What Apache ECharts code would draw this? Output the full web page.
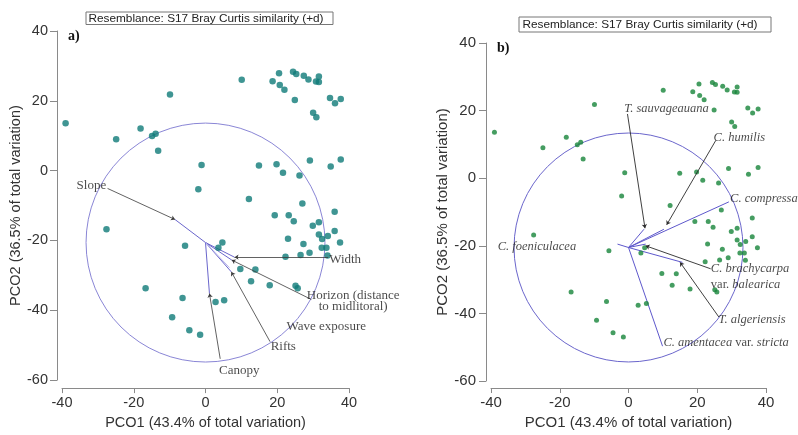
<!DOCTYPE html>
<html>
<head>
<meta charset="utf-8">
<script src="https://cdn.jsdelivr.net/npm/echarts@6/dist/echarts.min.js"></script>
<style>html,body{margin:0;padding:0;background:#fff}#c{width:798px;height:435px}</style>
</head>
<body>
<div id="c"></div>
<script>
// PCO scores (PCO1, PCO2) – same samples in both panels
const pcoScores = [
[-39.0,13.6],[-9.9,21.8],[-24.9,9.0],[-18.1,12.1],[-14.9,9.9],[-13.9,10.6],[-13.2,5.7],[-1.1,1.6],
[10.1,26.0],[20.5,27.9],[18.7,25.6],[20.7,24.5],[22.0,23.2],[24.4,28.3],[25.3,27.7],[27.4,27.2],
[28.7,26.1],[31.6,27.0],[30.8,25.5],[31.6,25.4],[24.9,20.2],[34.7,20.8],[36.1,19.3],[37.7,20.5],
[30.0,16.6],[30.9,15.3],[14.9,1.5],[19.8,1.8],[21.6,-0.6],[26.2,-1.4],[29.1,2.9],[34.9,1.2],
[37.7,3.2],[-2.0,-5.3],[-27.6,-16.8],[-5.7,-21.5],[-16.7,-33.7],[-6.4,-36.5],[-9.3,-42.0],[-4.5,-45.7],
[-1.5,-47.0],[12.1,-8.1],[27.0,-9.4],[36.0,-11.8],[19.3,-12.8],[23.2,-12.8],[24.6,-14.5],[29.9,-15.8],
[31.6,-14.8],[36.0,-17.3],[31.6,-18.3],[32.5,-19.6],[34.1,-18.7],[37.5,-20.6],[23.0,-19.5],[27.3,-21.0],
[32.4,-22.1],[33.7,-22.1],[29.0,-23.5],[26.5,-24.2],[22.3,-24.7],[34.0,-24.3],[4.7,-20.6],[3.6,-22.1],
[9.7,-28.2],[13.9,-28.3],[12.7,-31.7],[17.9,-32.8],[25.1,-33.0],[25.7,-33.7],[2.8,-37.6],[5.2,-37.1]
];

// correlation circle
const circleA = [0, -20.6, 33.3];
const circleB = [0, -20.5, 33.3];

// panel a) environmental vectors
const envOrigin = [0, -20.6];
const envEnds = [[-8.5,-14.0],[8.1,-24.8],[7.3,-25.6],[7.2,-29.0],[1.1,-35.2]];
const envFaintEnds = [[6.7,-27.8]];
const envLeaderFrom = [[-27.3,-5.1],[34.2,-24.7],[29.5,-36.9],[18.0,-49.0],[4.1,-53.9]];
const envLeaderTo = [[-8.5,-14.0],[8.1,-24.8],[7.3,-25.6],[7.2,-29.0],[1.1,-35.2]];
const envLabels = ['Slope','Width','Horizon (distance\nto midlitoral)','Wave exposure','Rifts','Canopy'];
const envLabelAt = [[-35.8,-4.5],[34.6,-25.6],[41.3,-37.4],[33.8,-44.8],[18.3,-50.4],[3.9,-57.3]];
const envLabelAlign = ['left','left','center','center','left','left'];

// panel b) species vectors
const spOrigin = [0, -20.5];
const spEnds = [[4.5,-15.1],[10.3,-15.1],[29.2,-7.0],[-3.2,-19.5],[5.0,-19.5],[15.7,-24.9],[9.9,-49.7]];
const spLeaderFrom = [[-0.3,19.0],[25.4,11.2],[23.9,-26.8],[26.3,-41.1]];
const spLeaderTo = [[4.8,-14.8],[11.1,-13.8],[5.0,-20.0],[15.0,-24.9]];
const spLabels = [
  '{i|T. sauvageauana}',
  '{i|C. humilis}',
  '{i|C. compressa}',
  '{i|C. foeniculacea}',
  '{i|C. brachycarpa}\n{r|var. }{i|balearica}',
  '{i|T. algeriensis}',
  '{i|C. amentacea }{r|var. }{i|stricta}'
];
const spLabelAt = [[-1.1,20.5],[24.9,11.7],[29.7,-6.1],[-37.9,-20.5],[24.1,-29.2],[26.3,-41.9],[10.3,-48.9]];

const axisTitleX = 'PCO1 (43.4% of total variation)';
const axisTitleY = 'PCO2 (36.5% of total variation)';
const resemblance = 'Resemblance: S17 Bray Curtis similarity (+d)';

const SANS = 'Liberation Sans, Arial, sans-serif';
const SERIF = 'Liberation Serif, Times New Roman, serif';

function xAx(g, off, margin, gap, fs) {
  return {
    gridIndex: g, type: 'value', min: -40, max: 40, interval: 20, offset: off,
    name: axisTitleX, nameLocation: 'middle', nameGap: gap,
    nameTextStyle: {fontFamily: SANS, fontSize: fs, color: '#333'},
    axisLine: {show: true, onZero: false, lineStyle: {color: '#8a8a8a', width: 1}},
    axisTick: {show: true, inside: false, length: 5, lineStyle: {color: '#8a8a8a'}},
    axisLabel: {fontFamily: SANS, fontSize: fs, color: '#333', margin: margin},
    splitLine: {show: false}
  };
}
function yAx(g, off, margin, gap, fs) {
  return {
    gridIndex: g, type: 'value', min: -60, max: 40, interval: 20, offset: off,
    name: axisTitleY, nameLocation: 'middle', nameGap: gap, nameRotate: 90,
    nameTextStyle: {fontFamily: SANS, fontSize: fs, color: '#333'},
    axisLine: {show: true, onZero: false, lineStyle: {color: '#8a8a8a', width: 1}},
    axisTick: {show: true, inside: false, length: 7, lineStyle: {color: '#8a8a8a'}},
    axisLabel: {fontFamily: SANS, fontSize: fs, color: '#333', margin: margin},
    splitLine: {show: false}
  };
}

function circleSeries(idx, c, color) {
  return {
    type: 'custom', xAxisIndex: idx, yAxisIndex: idx, clip: false, silent: true, z: 1,
    data: [c],
    renderItem: function (params, api) {
      const p = api.coord([api.value(0), api.value(1)]);
      const q = api.coord([api.value(0) + api.value(2), api.value(1)]);
      return {type: 'circle', shape: {cx: p[0], cy: p[1], r: q[0] - p[0]},
        style: {fill: 'none', stroke: color, lineWidth: 1}};
    }
  };
}
function segs(origin, ends) { return ends.map(e => ({coords: [origin, e]})); }
function pairs(a, b) { return a.map((s, i) => ({coords: [s, b[i]]})); }

const chart = echarts.init(document.getElementById('c'), null, {renderer: 'canvas'});
const option = {
  animation: false,
  backgroundColor: '#fff',
  grid: [
    {left: 62, top: 31, width: 287, height: 358},
    {left: 491, top: 43, width: 275, height: 343}
  ],
  xAxis: [xAx(0, 8, 7, 24, 14.5), xAx(1, 7, 7, 27, 15)],
  yAxis: [yAx(0, 5, 9, 34, 14.5), yAx(1, 5, 10, 35, 15)],
  graphic: [
    {type: 'rect', shape: {x: 86, y: 12, width: 247, height: 12.5}, style: {fill: '#fff', stroke: '#777', lineWidth: 1}},
    {type: 'text', x: 206, y: 18.5, style: {text: resemblance, font: '11.8px ' + SANS, fill: '#222', textAlign: 'center', textVerticalAlign: 'middle'}},
    {type: 'rect', shape: {x: 519, y: 17, width: 252, height: 15}, style: {fill: '#fff', stroke: '#777', lineWidth: 1}},
    {type: 'text', x: 640, y: 24.5, style: {text: resemblance, font: '11.8px ' + SANS, fill: '#222', textAlign: 'center', textVerticalAlign: 'middle'}},
    {type: 'text', x: 68, y: 29, style: {text: 'a)', font: 'bold 14px ' + SERIF, fill: '#111'}},
    {type: 'text', x: 497, y: 41, style: {text: 'b)', font: 'bold 14px ' + SERIF, fill: '#111'}}
  ],
  series: [
    circleSeries(0, circleA, '#8a86d6'),
    circleSeries(1, circleB, '#6b66cc'),
    // panel a vectors
    {type: 'lines', coordinateSystem: 'cartesian2d', xAxisIndex: 0, yAxisIndex: 0, z: 2, silent: true,
      lineStyle: {color: '#6a66cc', width: 1, opacity: 1}, symbol: 'none', data: segs(envOrigin, envEnds)},
    {type: 'lines', coordinateSystem: 'cartesian2d', xAxisIndex: 0, yAxisIndex: 0, z: 2, silent: true,
      lineStyle: {color: '#b9b6ec', width: 1, opacity: 1}, symbol: 'none', data: segs(envOrigin, envFaintEnds)},
    {type: 'scatter', xAxisIndex: 0, yAxisIndex: 0, z: 3, symbolSize: 6.5, silent: true,
      itemStyle: {color: '#0f7b78'}, data: pcoScores},
    {type: 'lines', coordinateSystem: 'cartesian2d', xAxisIndex: 0, yAxisIndex: 0, z: 4, silent: true,
      lineStyle: {color: '#3a3a3a', width: 0.8, opacity: 1}, symbol: ['none', 'arrow'], symbolSize: 4,
      data: pairs(envLeaderFrom, envLeaderTo)},
    {type: 'scatter', xAxisIndex: 0, yAxisIndex: 0, z: 5, symbolSize: 1, silent: true, clip: false,
      itemStyle: {color: 'rgba(0,0,0,0)'},
      data: envLabelAt.map((p, i) => ({value: p, name: envLabels[i],
        label: {show: true, position: [0, 0], align: envLabelAlign[i], verticalAlign: 'middle',
          formatter: envLabels[i], fontFamily: SERIF, fontSize: 13, color: '#1a1a1a', lineHeight: 11}}))},
    // panel b vectors
    {type: 'lines', coordinateSystem: 'cartesian2d', xAxisIndex: 1, yAxisIndex: 1, z: 2, silent: true,
      lineStyle: {color: '#5e58cc', width: 1, opacity: 1}, symbol: 'none', data: segs(spOrigin, spEnds)},
    {type: 'scatter', xAxisIndex: 1, yAxisIndex: 1, z: 3, symbolSize: 5, silent: true,
      itemStyle: {color: '#16853a'}, data: pcoScores},
    {type: 'lines', coordinateSystem: 'cartesian2d', xAxisIndex: 1, yAxisIndex: 1, z: 4, silent: true,
      lineStyle: {color: '#2a2a2a', width: 0.9, opacity: 1}, symbol: ['none', 'arrow'], symbolSize: 4,
      data: pairs(spLeaderFrom, spLeaderTo)},
    {type: 'scatter', xAxisIndex: 1, yAxisIndex: 1, z: 5, symbolSize: 1, silent: true, clip: false,
      itemStyle: {color: 'rgba(0,0,0,0)'},
      data: spLabelAt.map((p, i) => ({value: p,
        label: {show: true, position: [0, 0], align: 'left', verticalAlign: 'middle',
          formatter: spLabels[i], lineHeight: 16,
          rich: {
            i: {fontFamily: SERIF, fontStyle: 'italic', fontSize: 12.5, color: '#1a1a1a', lineHeight: 16},
            r: {fontFamily: SERIF, fontSize: 12.5, color: '#1a1a1a', lineHeight: 16}
          }}}))}
  ]
};
chart.setOption(option);
</script>
</body>
</html>
